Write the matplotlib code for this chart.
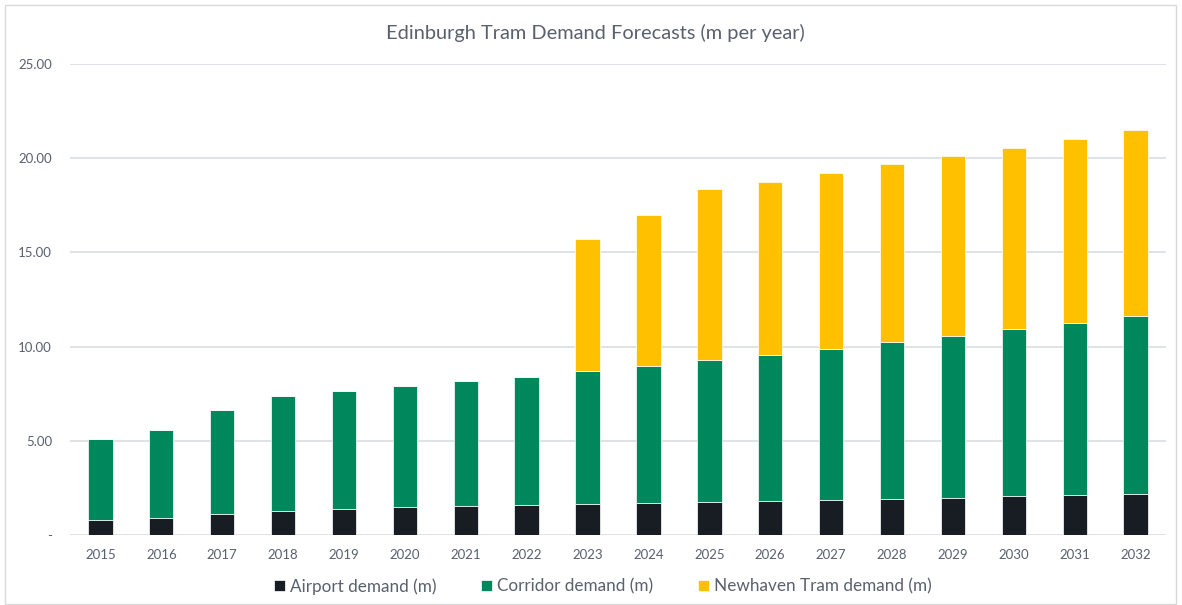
import matplotlib.pyplot as plt
from matplotlib.patches import Rectangle
import numpy as np

years = ['2015', '2016', '2017', '2018', '2019', '2020', '2021', '2022', '2023',
         '2024', '2025', '2026', '2027', '2028', '2029', '2030', '2031', '2032']
airport = [0.78, 0.90, 1.12, 1.26, 1.38, 1.47, 1.56, 1.60, 1.62,
           1.71, 1.74, 1.78, 1.87, 1.90, 1.99, 2.06, 2.10, 2.19]
corridor = [4.29, 4.69, 5.51, 6.10, 6.24, 6.46, 6.63, 6.79, 7.10,
            7.28, 7.57, 7.79, 8.02, 8.33, 8.56, 8.85, 9.15, 9.46]
newhaven = [0, 0, 0, 0, 0, 0, 0, 0, 7.01,
            8.02, 9.04, 9.18, 9.31, 9.45, 9.57, 9.63, 9.77, 9.85]
yticks = [0, 5, 10, 15, 20, 25]
ytick_labels = ['-', '5.00', '10.00', '15.00', '20.00', '25.00']

plt.rcParams['font.family'] = ['Lato', 'DejaVu Sans']
text_col = '#59606e'

fig = plt.figure(figsize=(11.82, 6.05), dpi=100)
ax = fig.add_axes([0.0592, 0.1157, 0.9273, 0.7785])

x = np.arange(len(years))
airport = np.array(airport)
corridor = np.array(corridor)
newhaven = np.array(newhaven)

ax.bar(x, airport, width=0.4, color='#181c23', edgecolor='white', linewidth=0.5,
       label='Airport demand (m)', zorder=3)
ax.bar(x, corridor, width=0.4, bottom=airport, color='#00885d', edgecolor='white',
       linewidth=0.5, label='Corridor demand (m)', zorder=3)
ax.bar(x, newhaven, width=0.4, bottom=airport + corridor, color='#ffc000',
       edgecolor='white', linewidth=0.5, label='Newhaven Tram demand (m)', zorder=3)

ax.set_xlim(-0.5, len(years) - 0.5)
ax.set_ylim(0, 25)
ax.set_yticks(yticks)
ax.set_yticklabels(ytick_labels)
ax.set_xticks(x)
ax.set_xticklabels(years)
ax.yaxis.grid(True, color='#d9dde3', linewidth=1.2, zorder=0)
ax.tick_params(length=0, colors=text_col, labelsize=9.5)
ax.tick_params(axis='x', pad=10)
ax.tick_params(axis='y', pad=13)
for s in ax.spines.values():
    s.set_visible(False)

fig.text(0.504, 0.945, 'Edinburgh Tram Demand Forecasts (m per year)', ha='center',
         va='center', fontsize=14.4, color=text_col)

leg = fig.legend(loc='center', bbox_to_anchor=(0.51, 0.031), ncol=3, frameon=False,
                 fontsize=12.3, handlelength=0.65, handleheight=0.65, handletextpad=0.3,
                 columnspacing=2.6)
for t in leg.get_texts():
    t.set_color(text_col)

fig.patches.append(Rectangle((0.004, 0.002), 0.991, 0.99, transform=fig.transFigure,
                             fill=False, edgecolor='#d9d9d9', linewidth=1))

plt.savefig('out.png', dpi=100)
plt.close(fig)
